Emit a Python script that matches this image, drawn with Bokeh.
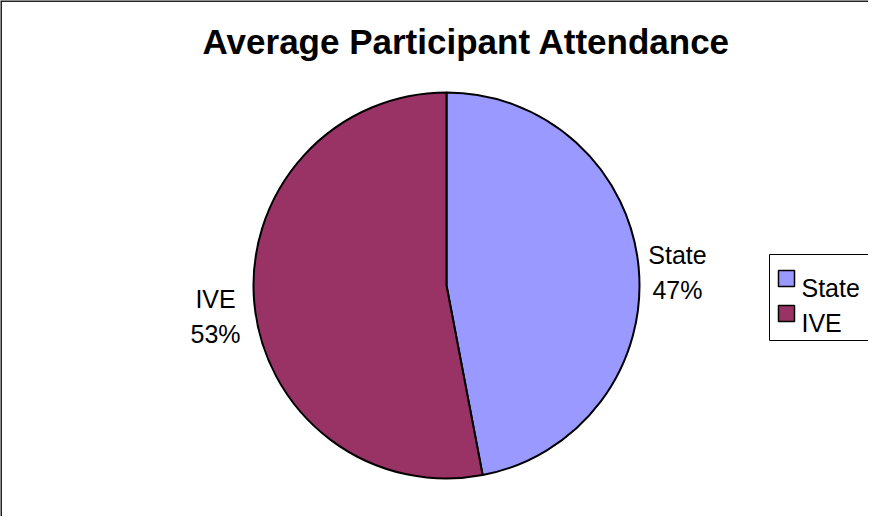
import math
from bokeh.plotting import figure
from bokeh.models import Range1d, Span
from bokeh.core.properties import value
from bokeh.embed import file_html
from bokeh.resources import INLINE

title_text = "Average Participant Attendance"
categories = ["State", "IVE"]
values = [47, 53]
colors = ["#9999FF", "#993366"]

W, H = 868, 516
p = figure(width=W, height=H, output_backend="svg", toolbar_location=None,
           x_range=Range1d(0, W), y_range=Range1d(0, H),
           min_border=0, min_border_left=0, min_border_right=0,
           min_border_top=0, min_border_bottom=0)
p.axis.visible = False
p.grid.visible = False
p.outline_line_color = None
p.background_fill_color = "white"
p.border_fill_color = "white"

font = value("Liberation Sans")

# chart border (left and top visible; rest is cropped in the reference)
p.add_layout(Span(location=0.5, dimension="height", line_color="#222222", line_width=2))
p.add_layout(Span(location=H - 0.5, dimension="width", line_color="#222222", line_width=2))

# title
p.text(x=[466], y=[475], text=[title_text], text_font=font, text_font_size="35px",
       text_font_style="bold", text_align="center", text_baseline="alphabetic", text_color="black")

# pie
cx, cy, r = 446, 231, 193
total = sum(values)
starts, ends, mids = [], [], []
a = math.pi / 2
for v in values:
    span = v / total * 2 * math.pi
    starts.append(a)
    ends.append(a - span)
    mids.append(a - span / 2)
    a -= span

p.wedge(x=[cx] * len(values), y=[cy] * len(values), radius=r,
        start_angle=starts, end_angle=ends, direction="clock",
        fill_color=colors, line_color="black", line_width=2)

# data labels
dist = 232
lx = [cx + dist * math.cos(m) for m in mids]
ly = [cy + dist * math.sin(m) for m in mids]
pcts = [f"{round(v / total * 100)}%" for v in values]
p.text(x=lx, y=[y + 8.5 for y in ly], text=categories, text_font=font, text_font_size="25px",
       text_align="center", text_baseline="alphabetic", text_color="black")
p.text(x=lx, y=[y - 26.5 for y in ly], text=pcts, text_font=font, text_font_size="25px",
       text_align="center", text_baseline="alphabetic", text_color="black")

# legend (drawn manually; box cropped at the right edge as in the reference)
box_left, box_top, box_bottom = 769, 262, 348
p.quad(left=[box_left], right=[W + 20], top=[524 - box_top], bottom=[524 - box_bottom],
       fill_color="white", line_color="black", line_width=1)
row_y = [524 - 286, 524 - 321]
p.rect(x=[786] * len(categories), y=row_y, width=16, height=16,
       fill_color=colors, line_color="black", line_width=1.5)
p.text(x=[801] * len(categories), y=[y - 9 for y in row_y], text=categories, text_font=font,
       text_font_size="25px", text_align="left", text_baseline="alphabetic", text_color="black")

open("out.html", "w").write(file_html(p, INLINE))
